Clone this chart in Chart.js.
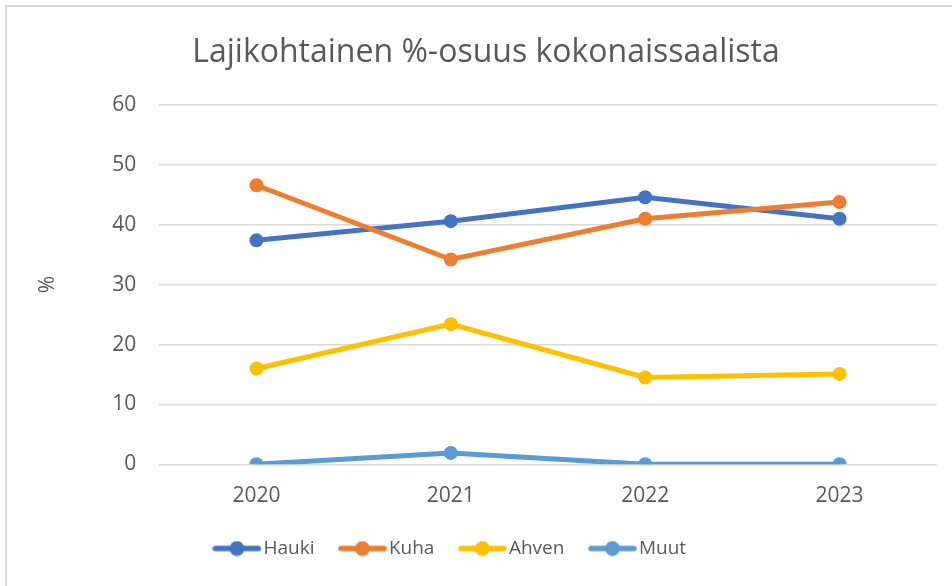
<!DOCTYPE html>
<html>
<head>
<meta charset="utf-8">
<script src="https://cdn.jsdelivr.net/npm/chart.js@4/dist/chart.umd.min.js"></script>
<style>
  html, body { margin: 0; padding: 0; background: #ffffff; overflow: hidden; }
  #wrap { position: relative; width: 952px; height: 586px; overflow: hidden; }
  #frame { position: absolute; left: 5px; top: 5px; width: 1000px; height: 1000px; border: 2px solid #d9d9d9; box-sizing: border-box; }
  #c { position: absolute; left: 0; top: 0; }
</style>
</head>
<body>
<div id="wrap">
  <div id="frame"></div>
  <canvas id="c" width="952" height="586"></canvas>
</div>
<script>
const titleText = 'Lajikohtainen %-osuus kokonaissaalista';
const yAxisTitle = '%';
const categories = ['2020', '2021', '2022', '2023'];
const seriesNames = ['Hauki', 'Kuha', 'Ahven', 'Muut'];
const hauki = [37.4, 40.6, 44.6, 41.0];
const kuha = [46.6, 34.2, 41.0, 43.8];
const ahven = [16.0, 23.4, 14.5, 15.1];
const muut = [0, 1.9, 0, 0];
const yTicks = [0, 10, 20, 30, 40, 50, 60];
const colors = ['#4472C4', '#ED7D31', '#FFC000', '#5B9BD5'];

const FONT = "'Open Sans', 'Noto Sans', sans-serif";
const TEXT = '#595959';

function legendIcon(color) {
  const cv = document.createElement('canvas');
  cv.width = 49; cv.height = 16;
  const g = cv.getContext('2d');
  g.strokeStyle = color;
  g.lineWidth = 5.5;
  g.lineCap = 'round';
  g.beginPath();
  g.moveTo(3, 8); g.lineTo(46, 8);
  g.stroke();
  g.fillStyle = color;
  g.beginPath();
  g.arc(24.5, 8, 7.4, 0, Math.PI * 2);
  g.fill();
  return cv;
}
const icons = colors.map(legendIcon);

const seriesData = [hauki, kuha, ahven, muut];
const datasets = seriesNames.map((name, i) => ({
  label: name,
  data: seriesData[i],
  borderColor: colors[i],
  backgroundColor: colors[i],
  borderWidth: 5,
  pointRadius: 7,
  pointHoverRadius: 7,
  pointBorderWidth: 0,
  pointBackgroundColor: colors[i],
  tension: 0,
  order: seriesNames.length - i
}));

const shiftPlugin = {
  id: 'shiftBlocks',
  afterLayout(chart) {
    if (chart.titleBlock) {
      const r = chart.titleBlock.right;
      chart.titleBlock.left = 972 - r;
    }
    if (chart.legend) {
      chart.legend.left = 0;
      chart.legend.right = 906;
    }
  }
};

new Chart(document.getElementById('c'), {
  type: 'line',
  data: { labels: categories, datasets },
  plugins: [shiftPlugin],
  options: {
    responsive: false,
    animation: false,
    devicePixelRatio: 1,
    layout: { padding: { left: 0, right: 15.3, top: 0, bottom: 18 } },
    plugins: {
      title: {
        display: true,
        text: titleText,
        color: TEXT,
        font: { family: FONT, size: 32, weight: 'normal', lineHeight: 1.2 },
        padding: { top: 33.5, bottom: 33.1 }
      },
      legend: {
        display: true,
        position: 'bottom',
        labels: {
          color: TEXT,
          font: { family: FONT, size: 19 },
          usePointStyle: true,
          pointStyleWidth: 34,
          padding: 31,
          generateLabels: (chart) => chart.data.datasets.map((ds, i) => ({
            text: ds.label,
            fillStyle: colors[i],
            strokeStyle: colors[i],
            lineWidth: 0,
            pointStyle: icons[i],
            hidden: false,
            datasetIndex: i,
            fontColor: TEXT
          }))
        }
      },
      tooltip: { enabled: false }
    },
    scales: {
      x: {
        offset: true,
        grid: { display: false, drawTicks: false },
        border: { display: false },
        ticks: { color: TEXT, font: { family: FONT, size: 21 }, padding: 18.9, maxRotation: 0 },
        afterFit: (s) => { s.height = 43.7; }
      },
      y: {
        min: 0,
        max: 60,
        afterBuildTicks: (s) => { s.ticks = yTicks.map(v => ({ value: v })); },
        grid: { color: '#d9d9d9', lineWidth: 1.5, drawTicks: false },
        border: { display: false },
        ticks: { color: TEXT, font: { family: FONT, size: 21 }, padding: 23 },
        title: {
          display: true,
          text: yAxisTitle,
          color: TEXT,
          font: { family: FONT, size: 21, lineHeight: 1.2 },
          padding: { top: 35.4, bottom: 0 }
        },
        afterFit: (s) => { s.width = 159.3; }
      }
    }
  }
});
</script>
</body>
</html>
